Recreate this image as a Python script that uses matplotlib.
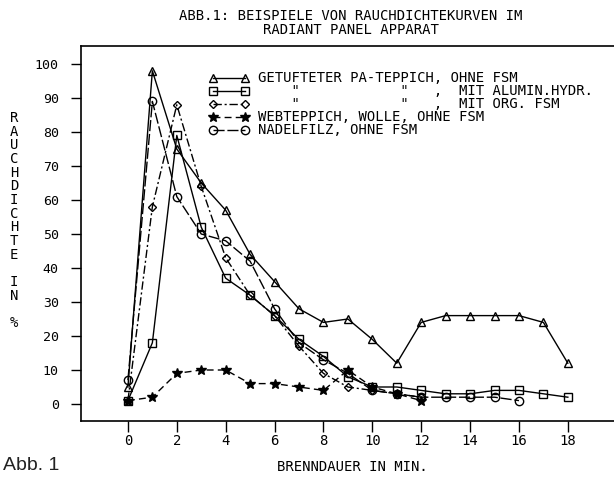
import matplotlib
matplotlib.use("Agg")
import matplotlib.pyplot as plt
from matplotlib.lines import Line2D

plt.rcParams['font.family'] = ['DejaVu Sans Mono']

# ---- data ----
t_tri = list(range(0, 19))
v_tri = [5, 98, 75, 65, 57, 44, 36, 28, 24, 25, 19, 12, 24, 26, 26, 26, 26, 24, 12]
t_sq = list(range(0, 19))
v_sq = [1, 18, 79, 52, 37, 32, 26, 19, 14, 8, 5, 5, 4, 3, 3, 4, 4, 3, 2]
t_dia = list(range(0, 13))
v_dia = [1, 58, 88, 64, 43, 32, 26, 17, 9, 5, 4, 3, 2]
t_star = list(range(0, 13))
v_star = [1, 2, 9, 10, 10, 6, 6, 5, 4, 10, 5, 3, 1]
t_circ = list(range(0, 17))
v_circ = [7, 89, 61, 50, 48, 42, 28, 18, 13, 9, 4, 3, 2, 2, 2, 2, 1]

labels = [
    'GETUFTETER PA-TEPPICH, OHNE FSM',
    '    "            "   ,  MIT ALUMIN.HYDR.',
    '    "            "   ,  MIT ORG. FSM',
    'WEBTEPPICH, WOLLE, OHNE FSM',
    'NADELFILZ, OHNE FSM',
]
xticks = list(range(0, 19, 2))
yticks = list(range(0, 101, 10))
title = 'ABB.1: BEISPIELE VON RAUCHDICHTEKURVEN IM\nRADIANT PANEL APPARAT'
xlabel = 'BRENNDAUER IN MIN.'
ylabel = 'R\nA\nU\nC\nH\nD\nI\nC\nH\nT\nE\n\nI\nN\n\n%'

W, H = 614, 479
fig = plt.figure(figsize=(W / 100, H / 100), dpi=100)

def fx(px):
    return px / W

def fy(py):
    return 1 - py / H

ax_l, ax_t, ax_b = 81, 46, 421
xmin, xmax = -1.92, 20.0
xscale = 24.44
ax_r = ax_l + (xmax - xmin) * xscale
ax = fig.add_axes([fx(ax_l), fy(ax_b), fx(ax_r) - fx(ax_l), fy(ax_t) - fy(ax_b)])
ax.set_xlim(xmin, xmax)
ax.set_ylim(-5, 105.3)

lw = 1.0
ms = 6
styles = [
    dict(marker='^', linestyle='-', mfc='none'),
    dict(marker='s', linestyle='-', mfc='none'),
    dict(marker='D', linestyle=(0, (6, 2, 1.5, 2)), mfc='none', ms=4.5),
    dict(marker='*', linestyle=(0, (5, 3)), mfc='black', ms=7.5),
    dict(marker='o', linestyle=(0, (8, 2)), mfc='none'),
]
series = [(t_tri, v_tri), (t_sq, v_sq), (t_dia, v_dia), (t_star, v_star), (t_circ, v_circ)]
for (xs, ys), st in zip(series, styles):
    kw = dict(color='black', lw=lw, mec='black', mew=1.0, ms=ms)
    kw.update(st)
    ax.plot(xs, ys, **kw)

# axes styling
ax.spines['right'].set_visible(False)
for s in ['left', 'bottom', 'top']:
    ax.spines[s].set_linewidth(1.2)
ax.set_xticks(xticks)
ax.set_yticks(yticks)
ax.tick_params(axis='y', direction='out', length=7, width=1.0, pad=9, labelsize=9.5)
ax.tick_params(axis='x', direction='out', length=8, width=1.0, pad=1.5, labelsize=10)

# legend (manual, monospace alignment)
leg_x0, leg_x1, txt_x = 213, 245, 258
rows = [78, 91, 104, 117, 130]
for (st, lab, ry) in zip(styles, labels, rows):
    kw = dict(color='black', lw=lw, mec='black', mew=1.0, ms=ms)
    kw.update(st)
    ln = Line2D([fx(leg_x0), fx(leg_x1)], [fy(ry), fy(ry)], transform=fig.transFigure, **kw)
    fig.add_artist(ln)
    fig.text(fx(txt_x), fy(ry), lab, ha='left', va='center', fontsize=10)

fig.text(fx(351), fy(23), title, ha='center', va='center', fontsize=10, linespacing=1.0)
fig.text(fx(352), fy(467), xlabel, ha='center', va='center', fontsize=10)
fig.text(fx(14), fy(117 - 6), ylabel, ha='center', va='top', fontsize=10, linespacing=0.97)
fig.text(fx(3), fy(465), 'Abb. 1', ha='left', va='center', fontsize=14,
         family='Liberation Sans', color='#222222')

fig.savefig('out.png', dpi=100)
